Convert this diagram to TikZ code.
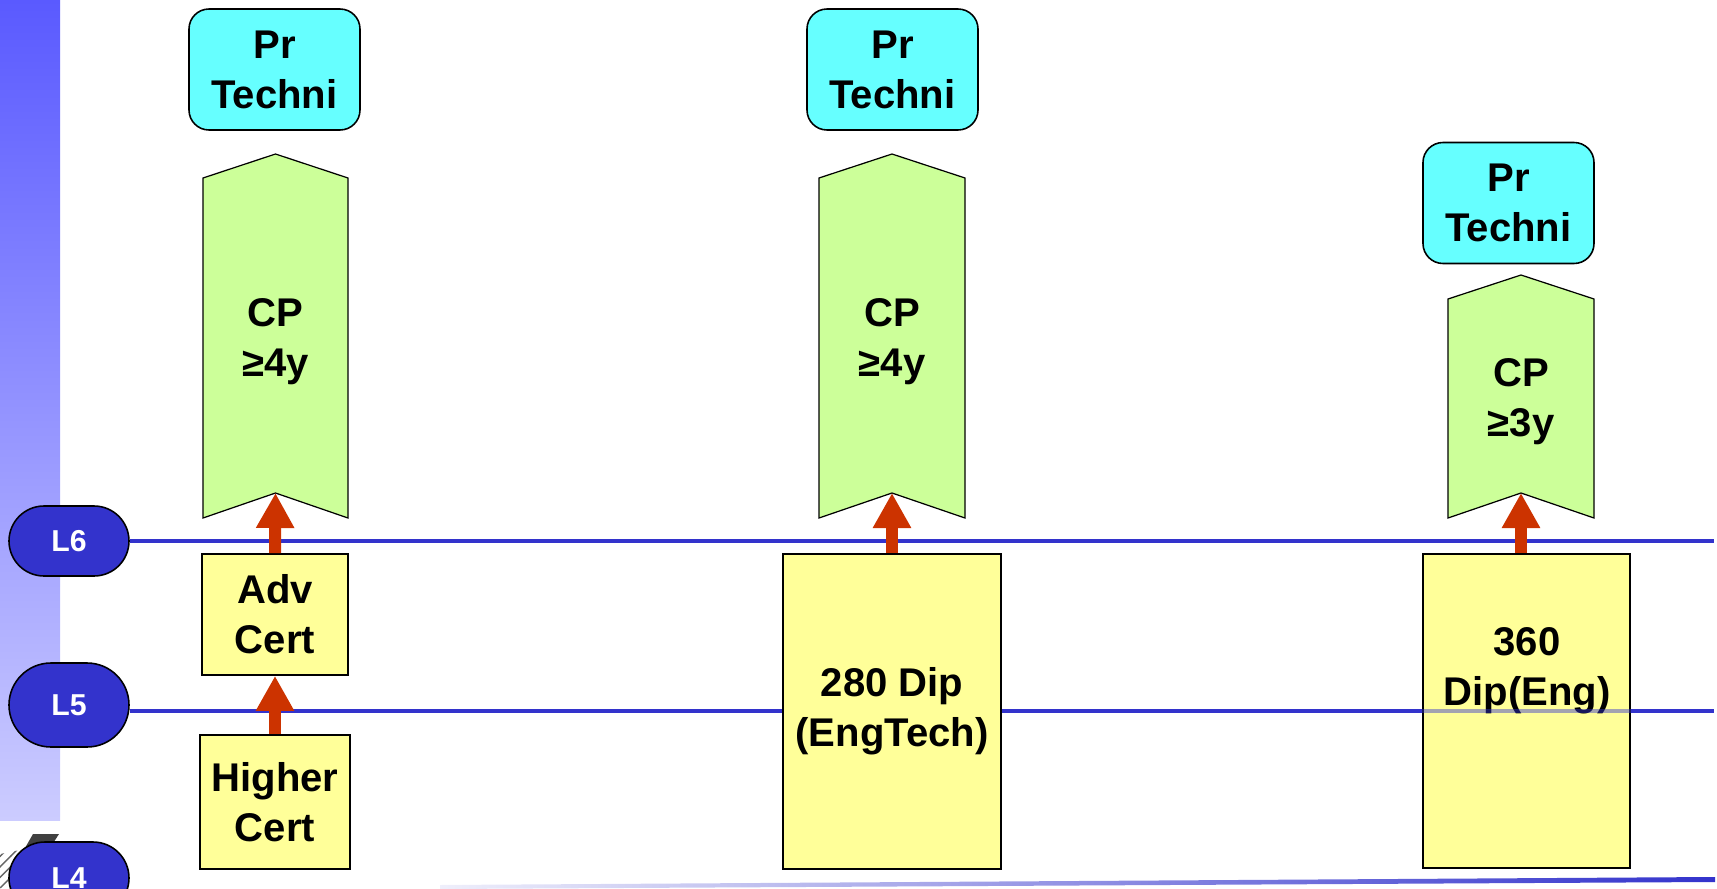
\documentclass[tikz,border=0pt]{standalone}
\usepackage{fontspec}
\setmainfont{Liberation Sans}
\usetikzlibrary{arrows.meta,patterns}
\definecolor{lvblue}{HTML}{3333CC}
\definecolor{bartop}{HTML}{5A5AFF}
\definecolor{barbot}{HTML}{CCCCFF}
\definecolor{prcyan}{HTML}{66FFFF}
\definecolor{cpgreen}{HTML}{CCFF99}
\definecolor{qyellow}{HTML}{FFFF99}
\definecolor{uparred}{HTML}{CC3300}
\newcommand{\qfont}{\fontsize{11.4}{14.2}\selectfont\bfseries}

\begin{document}
\begin{tikzpicture}[
  lvl/.style={rectangle,draw=black,line width=0.45pt,fill=lvblue,text=white,
    minimum width=1.2cm,font=\fontsize{8.6}{10}\selectfont\bfseries},
  lvline/.style={draw=lvblue,line width=0.95pt},
  prbox/.style={rectangle,rounded corners=0.2cm,draw=black,line width=0.45pt,fill=prcyan,
    minimum width=1.71cm,minimum height=1.21cm,align=center,font=\qfont},
  qbox/.style={rectangle,draw=black,line width=0.5pt,fill=qyellow,align=center,font=\qfont},
  cpbox/.style={draw=black,line width=0.35pt,fill=cpgreen},
  cptext/.style={align=center,font=\qfont},
  uparr/.style={draw=uparred,line width=0.12cm,-{Triangle[width=0.36cm,length=0.35cm]}}
]
\useasboundingbox (0,0) rectangle (17.17,8.88);
\clip (0,0) rectangle (17.17,8.88);

% side bar and corner mark
\shade[top color=bartop, bottom color=barbot] (0,0.68) rectangle (0.60,8.88);
\fill[black!75] (0.33,0.54) -- (0.59,0.54) -- (0.50,0.40) -- (0.25,0.40) -- cycle;
\fill[pattern=north east lines, pattern color=black!60] (0,0) -- (0,0.34) -- (0.30,0.40) -- (0.18,0) -- cycle;

% levels
\node[lvl, minimum height=0.70cm, rounded corners=0.35cm] (l6) at (0.69,3.47) {L6};
\node[lvl, minimum height=0.84cm, rounded corners=0.42cm] (l5) at (0.69,1.83) {L5};
\node[lvl, minimum height=0.72cm, rounded corners=0.36cm] (l4) at (0.69,0.10) {L4};
\coordinate (e6) at (17.14,3.47);
\coordinate (e5) at (17.14,1.77);
\draw[lvline] (l6.east) -- (e6);
\draw[lvline] (l5.east |- e5) -- (e5);
\shade[left color=lvblue!8, middle color=lvblue!90, right color=lvblue]
  (4.40,-0.01) -- (17.15,0.06) -- (17.15,0.11) -- (4.40,0.03) -- cycle;

% professional registration
\node[prbox] (pr1) at (2.745,8.185) {Pr\\Techni};
\node[prbox] (pr2) at (8.925,8.185) {Pr\\Techni};
\node[prbox] (pr3) at (15.085,6.85) {Pr\\Techni};

% competence periods
\draw[cpbox] (2.03,7.10) -- (2.755,7.34) -- (3.48,7.10) -- (3.48,3.70) -- (2.755,3.95) -- (2.03,3.70) -- cycle;
\draw[cpbox] (8.19,7.10) -- (8.92,7.34) -- (9.65,7.10) -- (9.65,3.70) -- (8.92,3.95) -- (8.19,3.70) -- cycle;
\draw[cpbox] (14.48,5.89) -- (15.21,6.13) -- (15.94,5.89) -- (15.94,3.70) -- (15.21,3.95) -- (14.48,3.70) -- cycle;
\coordinate (cp1n) at (2.755,3.95);
\coordinate (cp2n) at (8.92,3.95);
\coordinate (cp3n) at (15.21,3.95);
\node[cptext] (cp1) at (2.755,5.46) {CP\\≥4y};
\node[cptext] (cp2) at (8.92,5.46) {CP\\≥4y};
\node[cptext] (cp3) at (15.21,4.86) {CP\\≥3y};

% qualifications
\node[qbox, minimum width=1.46cm, minimum height=1.21cm] (adv) at (2.75,2.735) {Adv\\Cert};
\node[qbox, minimum width=1.46cm, minimum height=1.34cm] (hc) at (2.75,0.86) {Higher\\Cert};
\node[qbox, minimum width=2.18cm, minimum height=3.15cm] (dip2) at (8.92,1.765) {280 Dip\\(EngTech)};
\node[qbox, minimum width=2.07cm, minimum height=3.14cm] (dip3) at (15.265,1.77) {};
\node[cptext] (dip3t) at (15.27,2.17) {360\\Dip(Eng)};
\draw[lvline, opacity=0.45] (dip3.west |- e5) -- (dip3.east |- e5);

% progression
\draw[uparr] (adv.north) -- (cp1n);
\draw[uparr] (hc.north) -- (adv.south);
\draw[uparr] (dip2.north) -- (cp2n);
\draw[uparr] (dip3.north -| cp3n) -- (cp3n);
\end{tikzpicture}
\end{document}
